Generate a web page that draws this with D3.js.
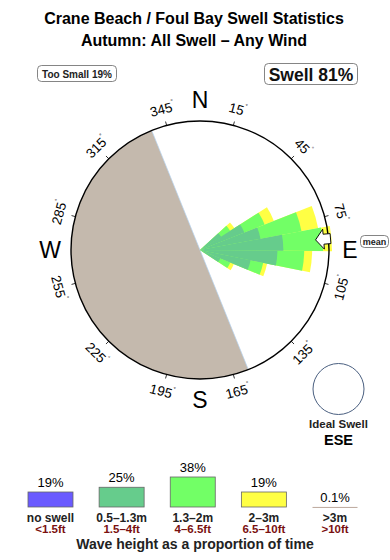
<!DOCTYPE html>
<html>
<head>
<meta charset="utf-8">
<script src="https://cdn.jsdelivr.net/npm/d3@7"></script>
<style>
	body { margin: 0; background: #fff; }
	text { font-family: "Liberation Sans", Arial, sans-serif; }
</style>
</head>
<body>
<script>
// swell directions (deg) and % of time in each height band
var directions = [53, 63, 74, 85, 96, 107, 118];
var band1 = [2.5, 4.8, 6.2, 8.4, 7.8, 5.2, 2.2];   // 0.5-1.3m
var band2 = [1.1, 2.2, 4.2, 4.0, 2.7, 1.3, 1.1];   // 1.3-2m
var band3 = [0.5, 1.0, 1.7, 0.9, 0.8, 0.4, 0.4];   // 2-3m

var tickAngles = [15, 45, 75, 105, 135, 165, 195, 225, 255, 285, 315, 345];
var compass = [{t: "N", a: 0}, {t: "E", a: 90}, {t: "S", a: 180}, {t: "W", a: 270}];

var landFrom = 158, landTo = 338;
var meanDir = 85;

var legendPct = [19, 25, 38, 19, 0.1];
var legendPctText = ["19%", "25%", "38%", "19%", "0.1%"];
var legendName = ["no swell", "0.5\u20131.3m", "1.3\u20132m", "2\u20133m", ">3m"];
var legendFt = ["<1.5ft", "1.5\u20134ft", "4\u20136.5ft", "6.5\u201310ft", ">10ft"];
var legendColor = ["#6a5aff", "#66cc8c", "#72ff66", "#ffff44", "#bba89c"];

window.onload = function(){

	var w = 390, h = 560;
	var cx = 200, cy = 250, R = 129;

	var svg = d3.select("body")
		.append("svg")
		.attr("width", w)
		.attr("height", h);

	// titles
	svg.append("text")
		.attr("x", 194).attr("y", 24)
		.attr("text-anchor", "middle")
		.style("font-size", "16px").style("font-weight", "bold")
		.text("Crane Beach / Foul Bay Swell Statistics");
	svg.append("text")
		.attr("x", 194).attr("y", 46)
		.attr("text-anchor", "middle")
		.style("font-size", "16px").style("font-weight", "bold")
		.text("Autumn: All Swell \u2013 Any Wind");

	// boxes
	svg.append("rect")
		.attr("x", 37.5).attr("y", 65.5).attr("width", 79).attr("height", 16).attr("rx", 4)
		.style("fill", "#fff").style("stroke", "#666").style("stroke-width", 0.8);
	svg.append("text")
		.attr("x", 77).attr("y", 77.5)
		.attr("text-anchor", "middle")
		.style("font-size", "10px").style("font-weight", "bold").style("fill", "#222")
		.text("Too Small 19%");
	svg.append("rect")
		.attr("x", 264.5).attr("y", 63.5).attr("width", 93).attr("height", 21).attr("rx", 4)
		.style("fill", "#fff").style("stroke", "#666").style("stroke-width", 0.8);
	svg.append("text")
		.attr("x", 311).attr("y", 80.5)
		.attr("text-anchor", "middle")
		.style("font-size", "17.5px").style("font-weight", "bold").style("fill", "#111")
		.text("Swell 81%");

	var rose = svg.append("g")
		.attr("transform", "translate(" + cx + "," + cy + ")");

	var rad = function(d){ return d * Math.PI / 180; };

	var r = d3.scaleLinear()
		.domain([0, 13])
		.range([0, R]);

	// land
	rose.append("path")
		.attr("d", d3.arc()({innerRadius: 0, outerRadius: R, startAngle: rad(landFrom), endAngle: rad(landTo)}))
		.style("fill", "#c4b9ad");
	rose.append("line")
		.attr("x1", R * Math.sin(rad(landFrom))).attr("y1", -R * Math.cos(rad(landFrom)))
		.attr("x2", R * Math.sin(rad(landTo))).attr("y2", -R * Math.cos(rad(landTo)))
		.style("stroke", "#b4d2f0").style("stroke-width", 0.7);

	// petals, outer band first
	var rows = directions.map(function(d, i){
		return {dir: d, a: band1[i], b: band2[i], c: band3[i]};
	});
	var bw = 11;
	var layers = [
		{col: "#ffff44", val: function(d){ return d.a + d.b + d.c; }},
		{col: "#72ff66", val: function(d){ return d.a + d.b; }},
		{col: "#66cc8c", val: function(d){ return d.a; }}
	];
	var arc = d3.arc();
	layers.forEach(function(L){
		rose.selectAll(null)
			.data(rows)
			.enter()
			.append("path")
			.attr("d", function(d){
				return arc({innerRadius: 0, outerRadius: r(L.val(d)),
					startAngle: rad(d.dir - bw / 2), endAngle: rad(d.dir + bw / 2)});
			})
			.style("fill", L.col);
	});

	// circle
	rose.append("circle")
		.attr("r", R)
		.style("fill", "none").style("stroke", "#000").style("stroke-width", 1.4);

	// ticks + labels
	rose.selectAll(".tick")
		.data(tickAngles)
		.enter()
		.append("line")
		.attr("x1", function(d){ return R * Math.sin(rad(d)); })
		.attr("y1", function(d){ return -R * Math.cos(rad(d)); })
		.attr("x2", function(d){ return (R + 4) * Math.sin(rad(d)); })
		.attr("y2", function(d){ return -(R + 4) * Math.cos(rad(d)); })
		.style("stroke", "#000").style("stroke-width", 0.8);

	var lab = rose.selectAll(".deg")
		.data(tickAngles)
		.enter()
		.append("text")
		.attr("text-anchor", "middle")
		.attr("dominant-baseline", "central")
		.attr("transform", function(d){
			var x = 146 * Math.sin(rad(d)), y = -146 * Math.cos(rad(d));
			var rot = (d < 90 || d > 270) ? (d > 270 ? d - 360 : d) : d - 180;
			return "translate(" + x + "," + y + ") rotate(" + rot + ")";
		})
		.style("font-size", "13.5px");
	lab.append("tspan").text(function(d){ return d; });
	lab.append("tspan").attr("dy", -5).style("font-size", "6px").text("\u00b0");

	rose.selectAll(".cmp")
		.data(compass)
		.enter()
		.append("text")
		.attr("x", function(d){ return 150 * Math.sin(rad(d.a)); })
		.attr("y", function(d){ return -150 * Math.cos(rad(d.a)) + 8; })
		.attr("text-anchor", "middle")
		.style("font-size", "23px")
		.text(function(d){ return d.t; });

	// mean arrow
	rose.append("path")
		.attr("transform", "rotate(" + (meanDir - 90) + ")")
		.attr("d", "M116,0 L124,-10 L124,-5 L131,-5 L131,5 L124,5 L124,10 Z")
		.style("fill", "#fff").style("stroke", "#000").style("stroke-width", 0.9);

	svg.append("rect")
		.attr("x", 360.5).attr("y", 235.5).attr("width", 28).attr("height", 12).attr("rx", 4)
		.style("fill", "#fff").style("stroke", "#666").style("stroke-width", 0.8);
	svg.append("text")
		.attr("x", 374.5).attr("y", 245)
		.attr("text-anchor", "middle")
		.style("font-size", "9px").style("font-weight", "bold").style("fill", "#222")
		.text("mean");

	// ideal swell
	svg.append("circle")
		.attr("cx", 338.5).attr("cy", 389).attr("r", 25.5)
		.style("fill", "#fff").style("stroke", "#4a5f80").style("stroke-width", 1);
	svg.append("text")
		.attr("x", 338.5).attr("y", 428)
		.attr("text-anchor", "middle")
		.style("font-size", "11.5px").style("font-weight", "bold").style("fill", "#222")
		.text("Ideal Swell");
	svg.append("text")
		.attr("x", 338.5).attr("y", 445)
		.attr("text-anchor", "middle")
		.style("font-size", "14.5px").style("font-weight", "bold")
		.text("ESE");

	// legend
	var lx = d3.scalePoint()
		.domain(d3.range(legendPct.length))
		.range([50.5, 335]);
	var lh = d3.scaleLinear()
		.domain([0, 38])
		.range([0, 30]);
	var base = 507;

	var lg = svg.selectAll(".leg")
		.data(legendPct)
		.enter()
		.append("g")
		.attr("transform", function(d, i){ return "translate(" + lx(i) + ",0)"; });

	lg.append("rect")
		.attr("x", -22.5)
		.attr("y", function(d){ return base - lh(d); })
		.attr("width", 45)
		.attr("height", function(d){ return Math.max(lh(d), 1); })
		.style("fill", function(d, i){ return legendColor[i]; })
		.style("stroke", function(d, i){ return i == 4 ? "none" : "#666"; })
		.style("stroke-width", 0.8);
	lg.append("text")
		.attr("y", function(d){ return base - lh(d) - 5; })
		.attr("text-anchor", "middle")
		.style("font-size", "13px")
		.text(function(d, i){ return legendPctText[i]; });
	lg.append("text")
		.attr("y", 521.5)
		.attr("text-anchor", "middle")
		.style("font-size", "12px").style("font-weight", "bold").style("fill", "#222")
		.text(function(d, i){ return legendName[i]; });
	lg.append("text")
		.attr("y", 533)
		.attr("text-anchor", "middle")
		.style("font-size", "11.5px").style("font-weight", "bold").style("fill", "#7a1010")
		.text(function(d, i){ return legendFt[i]; });

	svg.append("text")
		.attr("x", 195).attr("y", 549)
		.attr("text-anchor", "middle")
		.style("font-size", "14px").style("font-weight", "bold").style("fill", "#222")
		.text("Wave height as a proportion of time");
};
</script>
</body>
</html>
